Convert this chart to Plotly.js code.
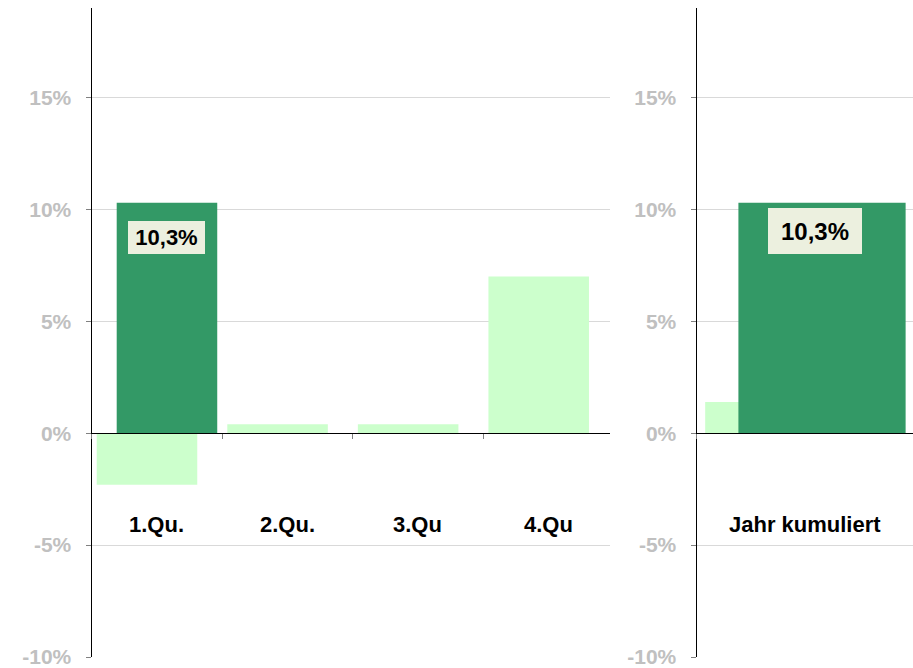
<!DOCTYPE html>
<html>
<head>
<meta charset="utf-8">
<script src="https://cdn.plot.ly/plotly-3.0.1.min.js"></script>
<style>html,body{margin:0;padding:0;background:#fff;}#chart{width:913px;height:668px;}</style>
</head>
<body>
<div id="chart"></div>
<script>
// ---- data ----
const categories = ['1.Qu.', '2.Qu.', '3.Qu', '4.Qu'];
const prevValues = [-2.3, 0.4, 0.4, 7.0];       // light green series
const curValues = [10.3, null, null, null];      // dark green series
const totalCategory = ['Jahr kumuliert'];
const totalPrev = [1.4];
const totalCur = [10.3];
const yTickVals = [-10, -5, 0, 5, 10, 15];
const yTickText = ['-10%', '-5%', '0%', '5%', '10%', '15%'];

// ---- styles ----
const FONT = 'Liberation Sans, Arial, sans-serif';
const LIGHT = '#CCFFCC';
const DARK = '#339966';
const W = 913, H = 668;
const yRange = [-10, 19];
const yDom = [11 / H, 660 / H];
const zeroPos = yDom[0] + (0 - yRange[0]) / (yRange[1] - yRange[0]) * (yDom[1] - yDom[0]);
const BAR_W = 0.77, OFF_PREV = -0.46, OFF_CUR = -0.307;

function fmt(v) { return v.toFixed(1).replace('.', ',') + '%'; }

const traces = [
  {type: 'bar', x: categories, y: prevValues, xaxis: 'x', yaxis: 'y',
   marker: {color: LIGHT, line: {width: 0}}, width: BAR_W, offset: OFF_PREV, hoverinfo: 'skip'},
  {type: 'bar', x: categories, y: curValues, xaxis: 'x', yaxis: 'y',
   marker: {color: DARK, line: {width: 0}}, width: BAR_W, offset: OFF_CUR, hoverinfo: 'skip'},
  {type: 'bar', x: totalCategory, y: totalPrev, xaxis: 'x2', yaxis: 'y2',
   marker: {color: LIGHT, line: {width: 0}}, width: BAR_W, offset: OFF_PREV, hoverinfo: 'skip'},
  {type: 'bar', x: totalCategory, y: totalCur, xaxis: 'x2', yaxis: 'y2',
   marker: {color: DARK, line: {width: 0}}, width: BAR_W, offset: OFF_CUR, hoverinfo: 'skip'}
];

function xAxis(domain, range) {
  return {
    domain: domain, range: range, type: 'category', anchor: 'free', position: zeroPos,
    showline: true, linecolor: '#000000', linewidth: 1,
    ticks: 'outside', tickson: 'boundaries', ticklen: 5, tickcolor: '#808080', tickwidth: 1,
    showticklabels: false, showgrid: false, zeroline: false, fixedrange: true
  };
}
function yAxis(anchor) {
  return {
    domain: yDom, range: yRange, anchor: anchor,
    tickmode: 'array', tickvals: yTickVals, ticktext: yTickText,
    ticks: 'outside', ticklen: 5, tickcolor: '#808080', tickwidth: 1,
    ticklabelstandoff: 10, ticklabeloverflow: 'allow',
    tickfont: {family: FONT, size: 21, color: '#C0C0C0', weight: 'bold'},
    showline: true, linecolor: '#000000', linewidth: 1,
    showgrid: true, gridcolor: '#D9D9D9', gridwidth: 1,
    zeroline: false, fixedrange: true
  };
}

const annotations = [];
categories.forEach(function (c) {
  annotations.push({x: c, y: -4.1, xref: 'x', yref: 'y', text: c, showarrow: false,
    xanchor: 'center', yanchor: 'middle',
    font: {family: FONT, size: 22, color: '#000000', weight: 'bold'}});
});
totalCategory.forEach(function (c) {
  annotations.push({x: c, y: -4.1, xref: 'x2', yref: 'y2', text: c, showarrow: false,
    xanchor: 'center', yanchor: 'middle',
    font: {family: FONT, size: 22, color: '#000000', weight: 'bold'}});
});
curValues.forEach(function (v, i) {
  if (v === null) return;
  annotations.push({x: categories[i], y: v, xref: 'x', yref: 'y', text: fmt(v), showarrow: false,
    xanchor: 'center', yanchor: 'top', xshift: 10, yshift: -18,
    width: 77, height: 33, borderpad: 0, borderwidth: 0, bgcolor: '#ECF0DF',
    font: {family: FONT, size: 22, color: '#000000', weight: 'bold'}});
});
totalCur.forEach(function (v, i) {
  annotations.push({x: totalCategory[i], y: v, xref: 'x2', yref: 'y2', text: fmt(v), showarrow: false,
    xanchor: 'center', yanchor: 'top', xshift: 10, yshift: -5,
    width: 94, height: 46, borderpad: 0, borderwidth: 0, bgcolor: '#ECF0DF',
    font: {family: FONT, size: 24, color: '#000000', weight: 'bold'}});
});

const layout = {
  width: W, height: H,
  margin: {l: 0, r: 0, t: 0, b: 0, pad: 0},
  paper_bgcolor: '#ffffff', plot_bgcolor: '#ffffff',
  barmode: 'overlay', showlegend: false,
  font: {family: FONT},
  xaxis: xAxis([91.5 / W, 610 / W], [-0.5, 3.471]),
  yaxis: yAxis('x'),
  xaxis2: xAxis([696.5 / W, 1], [-0.5, 0.497]),
  yaxis2: yAxis('x2'),
  annotations: annotations
};

Plotly.newPlot('chart', traces, layout, {displayModeBar: false, staticPlot: true});
</script>
</body>
</html>
